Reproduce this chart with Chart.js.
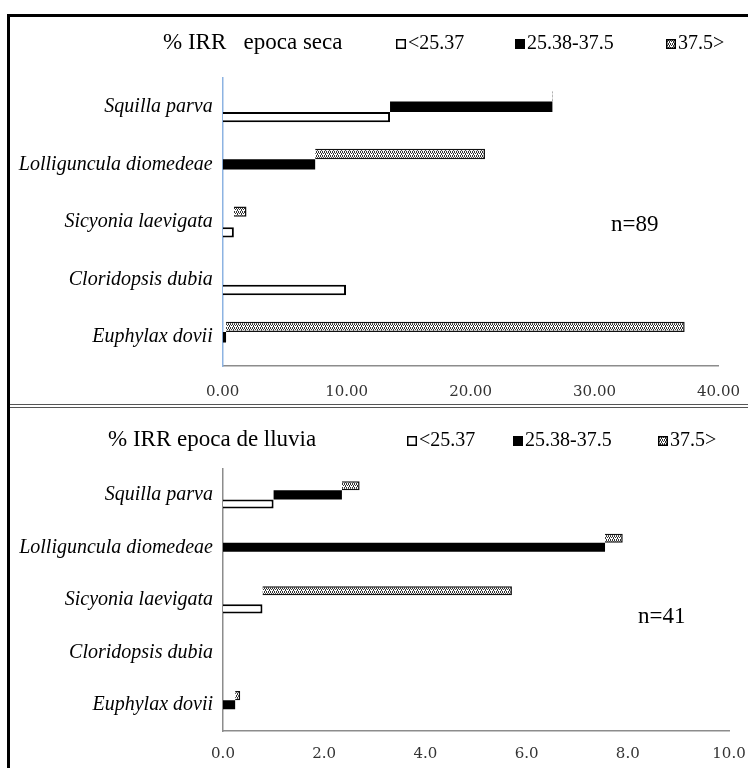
<!DOCTYPE html>
<html>
<head>
<meta charset="utf-8">
<script src="https://cdn.jsdelivr.net/npm/chart.js@4.4.0/dist/chart.umd.min.js"></script>
<style>
  body { margin: 0; background: #fff; }
  #wrap { position: relative; width: 748px; height: 768px; overflow: hidden; background: #fff; }
  canvas { position: absolute; left: 0; }
  #dryChart { top: 0; }
  #wetChart { top: 408px; }
  .frame { position: absolute; background: #000; }
  .sep { position: absolute; left: 10px; width: 738px; height: 1px; background: #555; }
</style>
</head>
<body>
<div id="wrap">
  <canvas id="dryChart" width="748" height="404"></canvas>
  <canvas id="wetChart" width="748" height="360"></canvas>
  <div class="frame" style="left:7px; top:14px; width:741px; height:3px;"></div>
  <div class="frame" style="left:7px; top:14px; width:3px; height:754px;"></div>
  <div class="sep" style="top:404px;"></div>
  <div class="sep" style="top:407px;"></div>
</div>
<script>
var categories = ['Squilla parva', 'Lolliguncula diomedeae', 'Sicyonia laevigata', 'Cloridopsis dubia', 'Euphylax dovii'];
var sizeClasses = ['<25.37', '25.38-37.5', '37.5>'];

// epoca seca, % IRR per size class
var dryLow = [13.5, 0, 0.9, 9.95, 0];
var dryMid = [13.1, 7.46, 0, 0, 0.27];
var dryHigh = [0.05, 13.7, 1.02, 0, 37.0];
var dryTicks = [0, 10, 20, 30, 40];

// epoca de lluvia
var wetLow = [1.0, 0, 0.78, 0, 0];
var wetMid = [1.35, 7.55, 0, 0, 0.24];
var wetHigh = [0.35, 0.35, 4.93, 0, 0.1];
var wetTicks = [0, 2, 4, 6, 8, 10];

Chart.defaults.animation = false;
Chart.defaults.font.family = '"Liberation Serif", serif';

// small dotted tile used for the 37.5> class
function makePattern() {
  var c = document.createElement('canvas');
  c.width = 4;
  c.height = 4;
  var g = c.getContext('2d');
  g.fillStyle = '#fff';
  g.fillRect(0, 0, 4, 4);
  g.fillStyle = '#333';
  g.fillRect(0, 0, 1, 1);
  g.fillRect(2, 0, 1, 1);
  g.fillRect(1, 1, 1, 1);
  g.fillRect(3, 1, 1, 1);
  g.fillRect(1, 2, 1, 1);
  g.fillRect(0, 3, 1, 1);
  g.fillRect(2, 3, 1, 1);
  return document.createElement('canvas').getContext('2d').createPattern(c, 'repeat');
}
var dotted = makePattern();

// each class starts where the previous one ends
function floating(values, base) {
  return values.map(function(v, i) {
    return v > 0 ? [base[i], base[i] + v] : null;
  });
}

function addUp(a, b) {
  return a.map(function(v, i) { return v + b[i]; });
}

function buildDatasets(low, mid, high) {
  var zero = low.map(function() { return 0; });
  // listed top-down inside each category: 37.5>, 25.38-37.5, <25.37
  return [
    { label: sizeClasses[2], data: floating(high, addUp(low, mid)), backgroundColor: dotted, borderColor: '#111', borderWidth: 1.5 },
    { label: sizeClasses[1], data: floating(mid, low), backgroundColor: '#000', borderColor: '#000', borderWidth: 0 },
    { label: sizeClasses[0], data: floating(low, zero), backgroundColor: '#fff', borderColor: '#000', borderWidth: 2 }
  ];
}

var headerPlugin = {
  id: 'header',
  afterDraw: function(chart, args, opts) {
    var ctx = chart.ctx;
    var sets = chart.data.datasets;
    ctx.save();
    ctx.fillStyle = '#000';
    ctx.textBaseline = 'middle';
    ctx.textAlign = 'left';
    ctx.font = '23px "Liberation Serif"';
    ctx.fillText(opts.title, opts.titleX, opts.y);

    ctx.font = '20px "Liberation Serif"';
    for (var i = 0; i < sizeClasses.length; i++) {
      var ds = sets[sets.length - 1 - i];
      var x = opts.itemX[i];
      ctx.fillStyle = ds.backgroundColor;
      ctx.fillRect(x, opts.y - 4, 10, 10);
      if (ds.borderWidth) {
        ctx.strokeStyle = '#000';
        ctx.lineWidth = 1.5;
        ctx.strokeRect(x + 0.75, opts.y - 3.25, 8.5, 8.5);
      }
      ctx.fillStyle = '#000';
      ctx.fillText(ds.label, x + 12, opts.y + 1);
    }

    ctx.font = '23px "Liberation Serif"';
    ctx.fillText(opts.note, opts.noteX, opts.noteY);
    ctx.restore();
  }
};

function makeChart(id, datasets, ticks, digits, header, box, axisColor) {
  var canvas = document.getElementById(id);
  return new Chart(canvas.getContext('2d'), {
    type: 'bar',
    data: { labels: categories, datasets: datasets },
    options: {
      responsive: false,
      indexAxis: 'y',
      categoryPercentage: box.catPct,
      barPercentage: 1,
      layout: { padding: { top: box.top, right: canvas.width - box.right, bottom: 0, left: 0 } },
      plugins: {
        legend: { display: false },
        tooltip: { enabled: false },
        header: header
      },
      scales: {
        x: {
          min: ticks[0],
          max: ticks[ticks.length - 1],
          // tick marks are hidden, their length only pushes the labels down
          grid: { display: false, drawTicks: true, tickLength: box.tickPad },
          border: { display: true, color: '#8c8c8c', width: 1.5 },
          ticks: {
            stepSize: ticks[1] - ticks[0],
            padding: 0,
            color: '#333',
            font: { family: '"DejaVu Serif"', size: 15 },
            callback: function(v) { return Number(v).toFixed(digits); }
          },
          afterFit: function(s) { s.height = canvas.height - box.bottom; }
        },
        y: {
          grid: { display: false, drawTicks: false },
          border: { display: true, color: axisColor, width: 1.5 },
          ticks: {
            padding: 10,
            color: '#000',
            font: { size: 20, style: 'italic' }
          },
          afterFit: function(s) { s.width = box.left; }
        }
      }
    },
    plugins: [headerPlugin]
  });
}

makeChart('dryChart', buildDatasets(dryLow, dryMid, dryHigh), dryTicks, 2,
  { title: '% IRR   epoca seca', titleX: 163, y: 43, itemX: [396, 515, 666], note: 'n=89', noteX: 611, noteY: 225 },
  { left: 222.7, right: 718.5, top: 78, bottom: 366, catPct: 0.54, tickPad: 17 },
  '#8db3e2');

makeChart('wetChart', buildDatasets(wetLow, wetMid, wetHigh), wetTicks, 1,
  { title: '% IRR epoca de lluvia', titleX: 108, y: 32, itemX: [407, 513, 658], note: 'n=41', noteX: 638, noteY: 209 },
  { left: 223, right: 729, top: 60.6, bottom: 323, catPct: 0.52, tickPad: 14 },
  '#8c8c8c');
</script>
</body>
</html>
